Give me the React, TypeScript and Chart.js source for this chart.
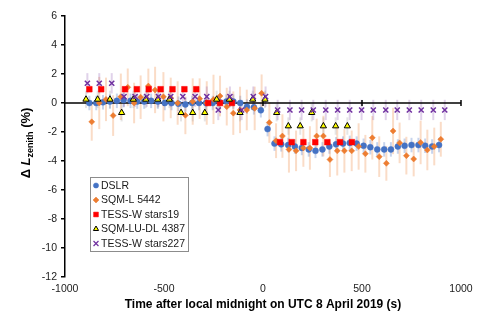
import { useEffect, useRef } from 'react';
import { Chart, registerables } from 'chart.js';
import { drawPoint } from 'chart.js/helpers';

Chart.register(...registerables);

const FONT = '"Liberation Sans", Arial, Helvetica, sans-serif';

// DSLR
const dslrX = [-877, -842, -808, -773, -738, -704, -669, -635, -600, -565, -531, -496, -462, -427, -392, -358, -323, -288, -254, -219, -185, -150, -115, -81, -46, -11, 23, 58, 92, 127, 161, 196, 231, 265, 300, 335, 369, 404, 438, 473, 508, 542, 577, 612, 646, 681, 715, 750, 785, 819, 854, 889];
const dslrY = [0.0, 0.0, 0.05, 0.1, 0.15, 0.2, 0.15, 0.1, 0.1, 0.15, 0.1, 0.0, 0.0, -0.05, -0.1, 0.0, 0.0, 0.0, 0.0, 0.05, 0.1, 0.1, 0.0, -0.25, -0.3, -0.5, -1.8, -2.8, -2.85, -2.9, -3.0, -3.1, -3.2, -3.3, -3.2, -3.0, -2.85, -2.8, -2.75, -2.8, -2.95, -3.05, -3.2, -3.2, -3.2, -3.0, -2.95, -2.9, -2.9, -2.95, -3.0, -2.9];
const dslrErr = 0.5;

// SQM-L 5442
const sqmX = [-865, -827, -793, -757, -718, -683, -651, -618, -579, -545, -503, -466, -431, -392, -355, -320, -284, -250, -217, -183, -150, -116, -82, -42, -7, 32, 66, 98, 131, 167, 204, 237, 271, 305, 338, 375, 411, 448, 483, 517, 552, 587, 623, 657, 690, 724, 761, 796, 830, 865, 898];
const sqmY = [-1.3, 0.0, 0.25, -0.87, 0.43, 1.08, 0.0, 0.4, 1.17, 0.9, 0.43, 0.35, 0.0, -0.85, 0.1, 0.3, 0.0, 0.25, 0.48, -0.25, -0.7, -0.48, -0.48, -0.37, 0.67, -1.35, -2.6, -2.28, -3.2, -3.3, -3.1, -3.1, -2.28, -2.28, -3.9, -3.3, -3.3, -3.3, -3.0, -3.5, -2.4, -3.7, -4.16, -1.93, -2.75, -3.63, -3.86, -2.72, -3.24, -3.0, -2.5];
const sqmErr = [1.3, 1.8, 1.5, 1.4, 1.6, 1.3, 1.4, 1.5, 1.2, 1.6, 1.7, 1.4, 1.5, 1.3, 1.6, 1.4, 1.5, 1.7, 1.4, 1.3, 1.5, 1.6, 1.4, 1.5, 1.3, 1.4, 1.2, 1.5, 1.6, 1.4, 1.3, 1.5, 1.2, 1.4, 1.2, 1.7, 1.5, 1.4, 1.6, 1.3, 1.5, 1.4, 1.2, 1.6, 1.4, 1.3, 1.2, 1.5, 1.4, 1.3, 1.2];

// TESS-W stars19
const tess19X = [-877, -817, -697, -637, -577, -517, -457, -397, -337, -277, -217, -157, 86, 145, 204, 264, 325, 389, 449];
const tess19Y = [0.95, 0.95, 0.95, 0.95, 0.95, 0.95, 0.95, 0.95, 0.95, 0.0, 0.0, 0.0, -2.7, -2.7, -2.7, -2.7, -2.7, -2.7, -2.7];

// SQM-LU-DL 4387
const sqmluX = [-894, -835, -773, -714, -655, -592, -532, -473, -414, -355, -294, -234, -170, -116, -52, 10, 69, 128, 188, 246, 305, 367, 426];
const sqmluY = [0.25, 0.25, 0.25, -0.67, 0.25, 0.25, 0.25, 0.25, -0.67, -0.67, -0.67, 0.25, 0.25, -0.67, 0.25, 0.25, -0.67, -1.59, -1.59, -0.67, -1.59, -1.59, -1.59];
const sqmluErr = 0.6;

// TESS-W stars227
const tess227X = [-887, -827, -764, -702, -646, -587, -528, -466, -405, -343, -284, -226, -167, -108, -49, 13, 74, 136, 195, 254, 317, 377, 438, 498, 557, 620, 678, 739, 799, 860, 918];
const tess227Y = [1.36, 1.36, 1.36, 0.44, 0.44, 0.44, 0.44, 0.44, 0.44, 0.44, 0.44, -0.48, 0.44, -0.48, 0.44, 0.44, -0.48, -0.48, -0.48, -0.48, -0.48, -0.48, -0.48, -0.48, -0.48, -0.48, -0.48, -0.48, -0.48, -0.48, -0.48];
const tess227Err = 0.7;

const seriesNames = ['DSLR', 'SQM-L 5442', 'TESS-W stars19', 'SQM-LU-DL 4387', 'TESS-W stars227'];
const xTicks = [-1000, -500, 0, 500, 1000];
const yTicks = [-12, -10, -8, -6, -4, -2, 0, 2, 4, 6];
const xTitle = 'Time after local midnight on UTC 8 April 2019 (s)';

const pts = (xs: number[], ys: number[]) => xs.map((x, i) => ({ x, y: ys[i] }));

const errorPlugin = {
  id: 'errorAndZero',
  beforeDatasetsDraw(chart: any) {
    const { ctx, chartArea, scales } = chart;
    const xs = scales.x;
    const ys = scales.y;
    ctx.save();
    ctx.beginPath();
    ctx.rect(chartArea.left, chartArea.top, chartArea.right - chartArea.left, chartArea.bottom - chartArea.top);
    ctx.clip();
    chart.data.datasets.forEach((ds: any) => {
      if (ds.errors === undefined) return;
      ctx.strokeStyle = ds.errorColor;
      ctx.lineWidth = ds.errorWidth || 2;
      ds.data.forEach((p: any, i: number) => {
        const e = Array.isArray(ds.errors) ? ds.errors[i] : ds.errors;
        const px = xs.getPixelForValue(p.x);
        ctx.beginPath();
        ctx.moveTo(px, ys.getPixelForValue(p.y + e));
        ctx.lineTo(px, ys.getPixelForValue(p.y - e));
        ctx.stroke();
      });
    });
    ctx.restore();
    // zero line with tick marks
    const y0 = ys.getPixelForValue(0);
    ctx.save();
    ctx.strokeStyle = '#000';
    ctx.lineWidth = 1.5;
    ctx.beginPath();
    ctx.moveTo(chartArea.left, y0);
    ctx.lineTo(chartArea.right, y0);
    ctx.stroke();
    xTicks.forEach((t) => {
      if (t === xTicks[0]) return;
      const px = xs.getPixelForValue(t);
      ctx.beginPath();
      ctx.moveTo(px, y0 - 3);
      ctx.lineTo(px, y0 + 3);
      ctx.stroke();
    });
    ctx.restore();
  },
  afterDraw(chart: any) {
    const { ctx, chartArea } = chart;
    ctx.save();
    // x title
    ctx.fillStyle = '#000';
    ctx.font = 'bold 12px ' + FONT;
    ctx.textAlign = 'center';
    ctx.textBaseline = 'middle';
    ctx.fillText(xTitle, (chartArea.left + chartArea.right) / 2, 305);
    // y title
    ctx.translate(25, 143);
    ctx.rotate(-Math.PI / 2);
    const parts = [
      { t: '\u0394 ', f: 'bold 13px ' + FONT, dy: 0 },
      { t: 'L', f: 'italic bold 13px ' + FONT, dy: 0 },
      { t: 'zenith', f: 'bold 9px ' + FONT, dy: 3 },
      { t: ' (%)', f: 'bold 13px ' + FONT, dy: 0 },
    ];
    let total = 0;
    parts.forEach((p) => {
      ctx.font = p.f;
      total += ctx.measureText(p.t).width;
    });
    let cx = -total / 2;
    ctx.textAlign = 'left';
    ctx.textBaseline = 'alphabetic';
    parts.forEach((p) => {
      ctx.font = p.f;
      ctx.fillText(p.t, cx, 4.5 + p.dy);
      cx += ctx.measureText(p.t).width;
    });
    ctx.restore();

    // legend
    ctx.save();
    const lx = 90, ly = 177, lw = 98, lh = 74;
    ctx.fillStyle = '#fff';
    ctx.fillRect(lx, ly, lw, lh);
    ctx.strokeStyle = '#8c8c8c';
    ctx.lineWidth = 1;
    ctx.strokeRect(lx + 0.5, ly + 0.5, lw, lh);
    const dsets = chart.data.datasets;
    dsets.forEach((ds: any, i: number) => {
      const yy = 185.5 + i * 14.5;
      ctx.fillStyle = ds.backgroundColor;
      ctx.strokeStyle = ds.borderColor;
      ctx.lineWidth = ds.legendBorder;
      drawPoint(ctx, { pointStyle: ds.pointStyle, radius: ds.legendRadius, rotation: 0, borderWidth: ds.legendBorder } as any, 96, yy);
      ctx.fillStyle = '#1a1a1a';
      ctx.font = '10.5px ' + FONT;
      ctx.textAlign = 'left';
      ctx.textBaseline = 'middle';
      ctx.fillText(seriesNames[i], 101, yy + 0.5);
    });
    ctx.restore();
  },
};

export default function App() {
  const ref = useRef<HTMLCanvasElement | null>(null);
  useEffect(() => {
    if (!ref.current) return;
    const chart = new Chart(ref.current, {
      type: 'scatter',
      data: {
        datasets: [
          {
            label: seriesNames[0],
            data: pts(dslrX, dslrY),
            pointStyle: 'circle',
            pointRadius: 3,
            backgroundColor: '#4472C4',
            borderColor: '#4472C4',
            borderWidth: 0.5,
            order: 5,
            errors: dslrErr,
            errorColor: 'rgba(68,114,196,0.3)',
            legendRadius: 2.6,
            legendBorder: 0.5,
          } as any,
          {
            label: seriesNames[1],
            data: pts(sqmX, sqmY),
            pointStyle: 'rectRot',
            pointRadius: 3,
            backgroundColor: '#ED7D31',
            borderColor: '#ED7D31',
            borderWidth: 0.5,
            order: 4,
            errors: sqmErr,
            errorColor: 'rgba(237,125,49,0.27)',
            legendRadius: 3,
            legendBorder: 0.5,
          } as any,
          {
            label: seriesNames[2],
            data: pts(tess19X, tess19Y),
            pointStyle: 'rect',
            pointRadius: 4,
            backgroundColor: '#FF0000',
            borderColor: '#FF0000',
            borderWidth: 0.5,
            order: 3,
            legendRadius: 3.4,
            legendBorder: 0.5,
          } as any,
          {
            label: seriesNames[3],
            data: pts(sqmluX, sqmluY),
            pointStyle: 'triangle',
            pointRadius: 3.6,
            backgroundColor: '#FFFF00',
            borderColor: '#000000',
            borderWidth: 1,
            order: 2,
            errors: sqmluErr,
            errorColor: 'rgba(150,150,150,0.25)',
            legendRadius: 3,
            legendBorder: 1,
          } as any,
          {
            label: seriesNames[4],
            data: pts(tess227X, tess227Y),
            pointStyle: 'crossRot',
            pointRadius: 3.6,
            backgroundColor: '#7030A0',
            borderColor: '#7030A0',
            borderWidth: 1.5,
            order: 1,
            errors: tess227Err,
            errorColor: 'rgba(112,48,160,0.22)',
            legendRadius: 3.5,
            legendBorder: 1.2,
          } as any,
        ],
      },
      options: {
        animation: false,
        responsive: true,
        maintainAspectRatio: false,
        layout: { padding: { top: 16, right: 18, left: 0, bottom: 0 } },
        plugins: { legend: { display: false }, tooltip: { enabled: false } },
        events: [],
        scales: {
          x: {
            type: 'linear',
            min: -1000,
            max: 1000,
            afterBuildTicks: (s: any) => {
              s.ticks = xTicks.map((v) => ({ value: v }));
            },
            afterFit: (s: any) => {
              s.height = 41;
            },
            grid: { display: false, drawTicks: false },
            border: { display: false },
            ticks: {
              padding: 6,
              color: '#222',
              font: { family: FONT, size: 10.5 },
              maxRotation: 0,
              autoSkip: false,
              callback: (v: any) => String(v),
            },
          },
          y: {
            type: 'linear',
            min: -12,
            max: 6,
            afterBuildTicks: (s: any) => {
              s.ticks = yTicks.map((v) => ({ value: v }));
            },
            afterFit: (s: any) => {
              s.width = 65;
            },
            grid: { display: true, drawOnChartArea: false, drawTicks: true, tickLength: 4, color: '#000', lineWidth: 1.5 },
            border: { display: true, color: '#000', width: 1.5 },
            ticks: {
              padding: 4,
              color: '#222',
              font: { family: FONT, size: 10.5 },
              autoSkip: false,
              callback: (v: any) => String(v),
            },
          },
        },
      },
      plugins: [errorPlugin],
    });
    return () => chart.destroy();
  }, []);
  return (
    <div style={{ position: 'fixed', left: 0, top: 0, width: 479, height: 318, background: '#fff' }}>
      <canvas ref={ref} />
    </div>
  );
}
